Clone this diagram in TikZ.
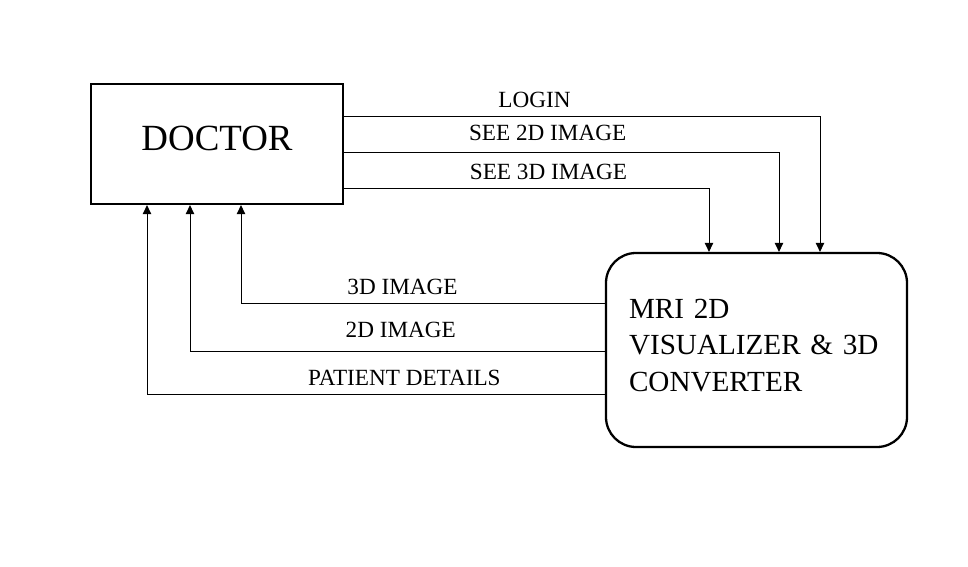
\documentclass[tikz,border=0pt]{standalone}
\usepackage{fontspec}
\setmainfont{Liberation Serif}
\usetikzlibrary{arrows.meta,positioning,calc}

\begin{document}
\begin{tikzpicture}[
  box/.style={draw,line width=1.3pt,inner sep=0pt},
  flow/.style={line width=0.55pt,-{Triangle[length=1.8mm,width=1.7mm]}},
  lbl/.style={font=\fontsize{13.2}{15}\selectfont,yshift=1pt}]
\useasboundingbox (0,0) rectangle (19.36,11.34);

% ---- the two entities
\node[box,minimum width=5.04cm,minimum height=2.4cm,text depth=0.24cm,
      font=\fontsize{21}{25}\selectfont] (doc) at (4.34,8.46) {DOCTOR};
\node[box,rounded corners=0.6cm,minimum width=6.02cm,minimum height=3.88cm,
      text width=5.1cm,align=left,inner xsep=0.46cm,text depth=1.65cm,
      font=\fontsize{16.6}{20.7}\selectfont] (mri) at (15.13,4.34)
      {MRI 2D\\VISUALIZER \& 3D\\CONVERTER};

% ---- requests: doctor to system
\draw[flow] ([yshift=0.56cm]doc.east) -| node[lbl,above,pos=0.2]{LOGIN} ([xshift=1.27cm]mri.north);
\draw[flow] ([yshift=-0.16cm]doc.east) -| node[lbl,above,pos=0.234,yshift=2pt]{SEE 2D IMAGE} ([xshift=0.45cm]mri.north);
\draw[flow] ([yshift=-0.88cm]doc.east) -| node[lbl,above,pos=0.28]{SEE 3D IMAGE} ([xshift=-0.95cm]mri.north);

% ---- replies: system to doctor
\draw[flow] ([yshift=0.94cm]mri.west) -| node[lbl,above,pos=0.278]{3D IMAGE} ([xshift=0.48cm]doc.south);
\draw[flow] ([yshift=-0.02cm]mri.west) -| node[lbl,above,pos=0.246,yshift=3pt]{2D IMAGE} ([xshift=-0.54cm]doc.south);
\draw[flow] ([yshift=-0.88cm]mri.west) -| node[lbl,above,pos=0.219]{PATIENT DETAILS} ([xshift=-1.4cm]doc.south);
\end{tikzpicture}
\end{document}
